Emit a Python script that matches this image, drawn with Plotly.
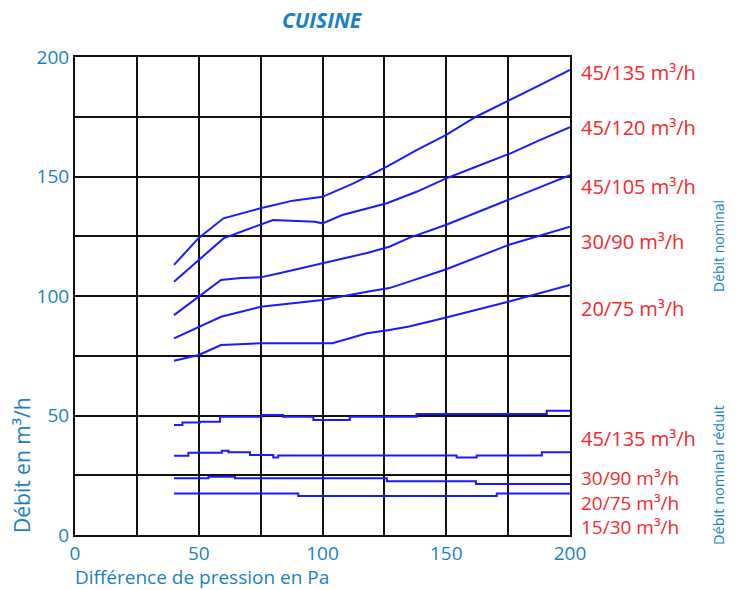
import plotly.graph_objects as go

# ---- data ----
title_text = "CUISINE"
x_title = "Différence de pression en Pa"
y_title = "Débit en m³/h"

tick_vals = [0, 25, 50, 75, 100, 125, 150, 175, 200]
tick_text = ["0", "", "50", "", "100", "", "150", "", "200"]

# Débit nominal
nom_labels = ["45/135 m³/h", "45/120 m³/h", "45/105 m³/h", "30/90 m³/h", "20/75 m³/h"]
n1_x = [40, 50, 60, 75, 88, 95, 100, 112.5, 126, 138, 150, 162, 176, 188, 200]
n1_y = [113, 124.3, 132.5, 136.7, 139.9, 140.9, 141.5, 147.1, 154.1, 161, 167.4, 175, 182, 188.3, 194.6]
n2_x = [40, 50, 60, 69, 75, 80, 97, 100, 108, 126, 138, 150, 162, 176, 188, 200]
n2_y = [106, 115, 124.1, 127.6, 130.0, 131.8, 131.1, 130.4, 133.9, 138.8, 143.6, 149.2, 154.1, 159.7, 165.3, 170.6]
n3_x = [40, 50, 59, 67, 75, 83, 100, 118, 127, 135, 150, 176, 200]
n3_y = [92, 99.6, 106.7, 107.5, 107.8, 109.6, 113.8, 118, 120.6, 124.3, 129.8, 140.6, 150.6]
n4_x = [40, 50, 59, 75, 100, 118, 127, 135, 150, 175, 200]
n4_y = [82.3, 87.2, 91.3, 95.5, 98.3, 101.8, 103.3, 106, 111.2, 121.3, 129]
n5_x = [40, 50, 59, 65, 75, 104, 118, 127, 135, 150, 175, 200]
n5_y = [72.9, 75.3, 79.5, 79.8, 80.2, 80.2, 84.4, 85.8, 87.2, 91, 97.6, 104.6]

# Débit nominal réduit (stepped)
red_labels = ["45/135 m³/h", "30/90 m³/h", "20/75 m³/h", "15/30 m³/h"]
r1_x = [40, 43.4, 50.5, 58.6, 75.4, 84, 96.3, 111, 138, 190.6, 200]
r1_y = [46, 47.1, 47.4, 49.5, 50.2, 49.5, 48.1, 49.5, 50.6, 52, 52]
r2_x = [40, 45.8, 59.3, 62, 70.7, 80.1, 82.1, 154.2, 162.3, 188.6, 200]
r2_y = [33.2, 34.4, 35.2, 34.6, 33.5, 32.4, 33.3, 32.4, 33.3, 34.6, 34.6]
r3_x = [40, 53.9, 64.6, 126, 162, 200]
r3_y = [23.7, 24.4, 23.7, 22.5, 21.3, 21.3]
r4_x = [40, 90.2, 170.4, 200]
r4_y = [17.4, 16.3, 17.4, 17.4]

# ---- styling ----
FONT = "Open Sans"
BLUE_TXT = "#1a7fc3"
RED_TXT = "#f5282a"
LINE = "#1a1aff"

W, H = 742, 590
L, T = 75, 57
R = W - 570
B = H - 535
PW, PH = W - L - R, H - T - B


def px(xp):
    return (xp - L) / PW


def py(yp):
    return (H - B - yp) / PH


fig = go.Figure()
for xs, ys in [(n1_x, n1_y), (n2_x, n2_y), (n3_x, n3_y), (n4_x, n4_y), (n5_x, n5_y)]:
    fig.add_trace(go.Scatter(x=xs, y=ys, mode="lines",
                             line=dict(color=LINE, width=2), hoverinfo="skip"))
for xs, ys in [(r1_x, r1_y), (r2_x, r2_y), (r3_x, r3_y), (r4_x, r4_y)]:
    fig.add_trace(go.Scatter(x=xs, y=ys, mode="lines",
                             line=dict(color=LINE, width=2, shape="hv"), hoverinfo="skip"))

axis_common = dict(
    range=[0, 200], tickvals=tick_vals, ticktext=tick_text,
    showgrid=True, gridcolor="#111111", gridwidth=2,
    showline=True, linecolor="#111111", linewidth=2, mirror=True,
    zeroline=False, ticks="", fixedrange=True,
    tickfont=dict(family=FONT, size=19, color=BLUE_TXT),
)
fig.update_xaxes(**axis_common)
fig.update_yaxes(**axis_common)


def add_ann(ann, text, xp, yp, size, color, xanchor="center", angle=0, align="center"):
    ann.append(dict(text=text, x=px(xp), y=py(yp), xref="paper", yref="paper",
                    xanchor=xanchor, yanchor="middle", textangle=angle, align=align,
                    showarrow=False, font=dict(family=FONT, size=size, color=color)))


ann = []
add_ann(ann, "<b><i>" + title_text + "</i></b>", 322, 20, 21, BLUE_TXT)
add_ann(ann, x_title, 73, 577, 19, BLUE_TXT, xanchor="left")
add_ann(ann, y_title, 22, 465, 21, BLUE_TXT, angle=-90)

nom_y = [73, 128, 186, 241, 308]
for t, yp in zip(nom_labels, nom_y):
    add_ann(ann, t, 579, yp, 20, RED_TXT, xanchor="left")
# first reduced label alone, the three tightly packed ones as one block
add_ann(ann, red_labels[0], 579, 438, 20, RED_TXT, xanchor="left")
add_ann(ann, "<br>".join(red_labels[1:]), 579, 502, 19, RED_TXT, xanchor="left", align="left")

add_ann(ann, "Débit nominal", 718, 246, 14, BLUE_TXT, angle=-90)
add_ann(ann, "Débit nominal réduit", 718, 475, 14.5, BLUE_TXT, angle=-90)

fig.update_layout(
    width=W, height=H,
    margin=dict(l=L, r=R, t=T, b=B),
    paper_bgcolor="white", plot_bgcolor="white",
    showlegend=False,
    annotations=ann,
)

fig.write_html("out.html", config={"displayModeBar": False},
               post_script="document.body.style.margin='0';document.body.style.overflow='hidden';")
